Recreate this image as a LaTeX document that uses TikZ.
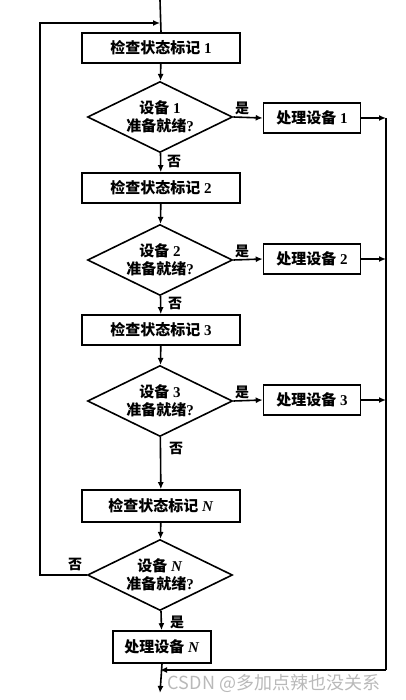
\documentclass[tikz,border=0pt]{standalone}
\usepackage{fontspec}
\setmainfont{Liberation Serif}
\newfontfamily\cjk{Noto Sans CJK SC}
\usetikzlibrary{shapes.geometric,arrows.meta}
\begin{document}
\begin{tikzpicture}[x=1pt,y=-1pt,
  every node/.style={font=\fontsize{15}{18}\selectfont\bfseries},
  ln/.style={line width=1.6pt},
  arr/.style={ln,-{Latex[length=7pt,width=6pt]}},
  box/.style={draw,ln,rectangle,minimum width=158,minimum height=30,inner sep=0},
  pbox/.style={draw,ln,rectangle,minimum width=97,minimum height=30,inner sep=0},
  dec/.style={draw,ln,diamond,minimum width=145,minimum height=71,inner sep=0,aspect=2,align=center},
  lab/.style={font=\fontsize{14}{16}\selectfont\cjk\bfseries,inner sep=1pt}]
\useasboundingbox (0,0) rectangle (406,700);
% nodes
\node[box] (b1) at (161,48) {{\cjk\bfseries 检查状态标记} 1};
\node[dec] (d1) at (160,117) {{\cjk\bfseries 设备} 1\\{\cjk\bfseries 准备就绪}?};
\node[pbox] (p1) at (312,118) {{\cjk\bfseries 处理设备} 1};
\node[box] (b2) at (161,188) {{\cjk\bfseries 检查状态标记} 2};
\node[dec] (d2) at (160,260) {{\cjk\bfseries 设备} 2\\{\cjk\bfseries 准备就绪}?};
\node[pbox] (p2) at (312,259) {{\cjk\bfseries 处理设备} 2};
\node[box] (b3) at (161,330) {{\cjk\bfseries 检查状态标记} 3};
\node[dec] (d3) at (160,401) {{\cjk\bfseries 设备} 3\\{\cjk\bfseries 准备就绪}?};
\node[pbox] (p3) at (312,400) {{\cjk\bfseries 处理设备} 3};
\node[box,minimum height=32] (bN) at (161,506) {{\cjk\bfseries 检查状态标记} \textit{N}};
\node[dec] (dN) at (160,575) {{\cjk\bfseries 设备} \textit{N}\\{\cjk\bfseries 准备就绪}?};
\node[pbox,minimum width=98,minimum height=32] (pN) at (162,647) {{\cjk\bfseries 处理设备} \textit{N}};
% coordinates
\coordinate (top) at (160,0);
\coordinate (lt) at (40,23);
\coordinate (lj) at (160,23);
\coordinate (lb) at (40,575);
\coordinate (r1) at (386,118);
\coordinate (r2) at (386,259);
\coordinate (r3) at (386,400);
\coordinate (rb) at (386,670);
\coordinate (mj) at (160,670);
\coordinate (bot) at (160,693);
% connectors
\draw[ln] (top) -- (b1.north);
\draw[arr] (dN.west) -- (lb) -- (lt) -- (lj);
\draw[arr] (b1) -- (d1);
\draw[arr] (d1) -- (b2);
\draw[arr] (b2) -- (d2);
\draw[arr] (d2) -- (b3);
\draw[arr] (b3) -- (d3);
\draw[arr] (d3) -- (bN);
\draw[arr] (bN) -- (dN);
\draw[arr] (dN) -- (pN);
\draw[arr] (d1.east) -- (p1.west);
\draw[arr] (d2.east) -- (p2.west);
\draw[arr] (d3.east) -- (p3.west);
\draw[arr] (p1.east) -- (r1);
\draw[arr] (p2.east) -- (r2);
\draw[arr] (p3.east) -- (r3);
\draw[ln] (r1) -- (rb);
\draw[arr] (rb) -- (mj);
\draw[arr] (pN.south) -- (bot);
% labels
\node[lab] (y1) at (242,108) {是};
\node[lab] (y2) at (242,251) {是};
\node[lab] (y3) at (242,392) {是};
\node[lab] (yN) at (177,622) {是};
\node[lab] (n1) at (174,161) {否};
\node[lab] (n2) at (175,303) {否};
\node[lab] (n3) at (176,448) {否};
\node[lab] (nN) at (75,564) {否};
\node[font=\fontsize{18}{20}\selectfont\cjk,text=gray!55] (wm) at (274,683) {CSDN @多加点辣也没关系};
\end{tikzpicture}
\end{document}
